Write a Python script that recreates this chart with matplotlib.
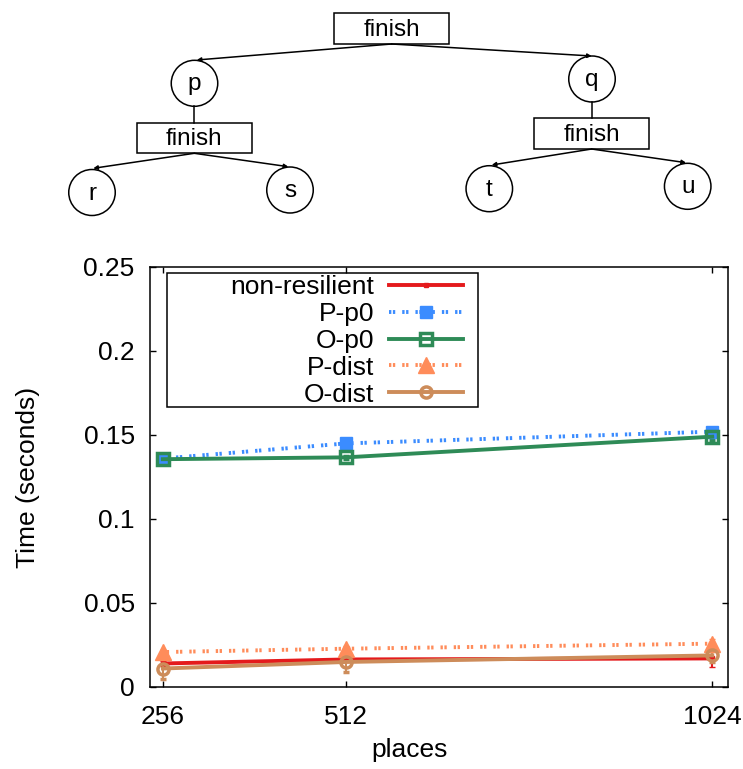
import numpy as np
import matplotlib
matplotlib.use('Agg')
import matplotlib.pyplot as plt
from matplotlib.patches import Rectangle, Ellipse

# ---- data ----
places = [256, 512, 1024]
non_resilient = [0.0140, 0.0164, 0.0170]
p_p0 = [0.1360, 0.1450, 0.1520]
o_p0 = [0.1356, 0.1367, 0.1490]
p_dist = [0.0208, 0.0228, 0.0258]
o_dist = [0.0110, 0.0149, 0.0188]

err_non_resilient = [0.0015, 0.0015, 0.0050]
err_p_p0 = [0.0010, 0.0010, 0.0030]
err_o_p0 = [0.0010, 0.0010, 0.0020]
err_p_dist = [0.0015, 0.0015, 0.0025]
err_o_dist = [0.0065, 0.0060, 0.0040]

y_ticks = [0, 0.05, 0.1, 0.15, 0.2, 0.25]
y_ticklabels = ['0', '0.05', '0.1', '0.15', '0.2', '0.25']

# tree diagram (pixel layout of the top picture)
boxes = [('finish', 391.7, 28.7), ('finish', 194.3, 138.0), ('finish', 591.7, 133.7)]
circles = [('p', 194.5, 83.3), ('q', 592.0, 79.0),
           ('r', 92.0, 192.5), ('s', 290.0, 190.0),
           ('t', 489.3, 188.7), ('u', 687.7, 186.3)]
arrows = [((391.7, 44.0), (196.7, 60.0)), ((391.7, 44.0), (591.7, 56.0)),
          ((194.3, 153.3), (93.3, 168.3)), ((194.3, 153.3), (288.3, 166.7)),
          ((591.7, 149.0), (491.7, 165.0)), ((591.7, 149.0), (686.0, 162.7))]
links = [((194.3, 106.0), (194.3, 122.7)), ((592.0, 101.7), (592.0, 118.3))]

W, H = 743, 769
fig = plt.figure(figsize=(W / 100, H / 100), dpi=100)
plt.rcParams['font.family'] = ['Liberation Sans', 'DejaVu Sans']
tree_font = ['Liberation Sans Narrow', 'Liberation Sans', 'DejaVu Sans']

# ---- tree on top ----
tx = fig.add_axes([0, 0, 1, 1])
tx.set_xlim(0, W)
tx.set_ylim(H, 0)
tx.axis('off')
for label, cx, cy in boxes:
    tx.add_patch(Rectangle((cx - 57.5, cy - 15.4), 115, 30.8, fill=False, lw=1.1, ec='black'))
    tx.text(cx, cy + 1, label, ha='center', va='center', fontsize=17.5, family=tree_font)
for label, cx, cy in circles:
    tx.add_patch(Ellipse((cx, cy), 46.5, 46, fill=False, lw=1.1, ec='black'))
    tx.text(cx, cy + 1, label, ha='center', va='center', fontsize=17.5, family=tree_font)
for (x0, y0), (x1, y1) in arrows:
    tx.annotate('', xy=(x1, y1), xytext=(x0, y0),
                arrowprops=dict(arrowstyle='-|>', lw=1.1, color='black',
                                mutation_scale=6, shrinkA=0, shrinkB=0))
for (x0, y0), (x1, y1) in links:
    tx.plot([x0, x1], [y0, y1], color='black', lw=1.1)

# ---- chart ----
left, right, top, bottom = 150, 728, 267, 687
ax = fig.add_axes([left / W, 1 - bottom / H, (right - left) / W, (bottom - top) / H])

dots = (0.6, 0.4, 0.6, 1.8)
series = []
series.append(ax.errorbar(places, non_resilient, yerr=err_non_resilient, color='#e41a1c', lw=2.8,
                          marker='s', ms=3, elinewidth=1.5, capsize=2, label='non-resilient'))
series.append(ax.errorbar(places, p_p0, yerr=err_p_p0, color='#3b8cff', lw=2.8, dashes=dots,
                          marker='s', ms=8.5, elinewidth=1.5, capsize=2, label='P-p0'))
series.append(ax.errorbar(places, o_p0, yerr=err_o_p0, color='#2e8b57', lw=2.8,
                          marker='s', ms=8.5, mfc='none', mew=2.5, elinewidth=1.5, capsize=2,
                          label='O-p0'))
series.append(ax.errorbar(places, p_dist, yerr=err_p_dist, color='#ff8c5a', lw=2.8, dashes=dots,
                          marker='^', ms=11, elinewidth=1.5, capsize=2, label='P-dist'))
series.append(ax.errorbar(places, o_dist, yerr=err_o_dist, color='#cd8c5a', lw=2.8,
                          marker='o', ms=8, mfc='none', mew=2.5, elinewidth=1.5, capsize=2,
                          label='O-dist'))

ax.set_xlim(238, 1046)
ax.set_ylim(0, 0.25)
ax.set_xticks(places)
ax.set_xticklabels([str(p) for p in places])
ax.set_yticks(y_ticks)
ax.set_yticklabels(y_ticklabels)
ax.tick_params(direction='in', length=4, width=1, top=True, right=True,
               labelsize=19)
ax.tick_params(axis='y', pad=11)
ax.tick_params(axis='x', pad=13)
for s in ax.spines.values():
    s.set_linewidth(1.1)

ax.set_xlabel('places', fontsize=19)
ax.set_ylabel('Time (seconds)', fontsize=19)
ax.xaxis.set_label_coords((410 - left) / (right - left), -0.122)
ax.yaxis.set_label_coords((40 - left) / (right - left), 0.5)

ax.legend(handles=[c.lines[0] for c in series], labels=[c.get_label() for c in series],
          loc='upper right', bbox_to_anchor=(463 / W, 1 - 275 / H),
          bbox_transform=fig.transFigure, frameon=False, markerfirst=False,
          fontsize=19, borderpad=0, borderaxespad=0, handlelength=2.8,
          handletextpad=0.57, labelspacing=0.11)
ax.add_patch(Rectangle((167 / W, 1 - 407 / H), (478 - 167) / W, (407 - 273) / H,
                       transform=fig.transFigure, fill=False, lw=1.1, ec='black',
                       clip_on=False))

fig.savefig('out.png', dpi=100)
